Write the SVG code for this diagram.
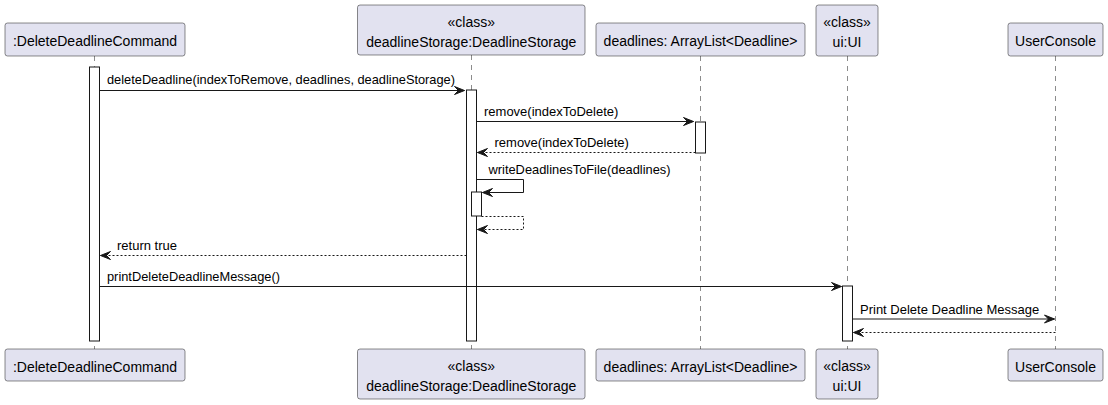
<svg xmlns="http://www.w3.org/2000/svg" width="1108" height="405" viewBox="0 0 1108 405">
<style>
.box{fill:#E2E2F0;stroke:#181818;stroke-width:0.5}
.life{stroke:#181818;stroke-width:0.5;stroke-dasharray:5,5;fill:none}
.act{fill:#FFFFFF;stroke:#181818;stroke-width:1}
.msg{stroke:#181818;stroke-width:1;fill:none}
.ret{stroke:#181818;stroke-width:1;fill:none;stroke-dasharray:2,2}
.pt{font-family:"Liberation Sans",Arial,sans-serif;font-size:14px;fill:#000;text-anchor:middle}
.mt{font-family:"Liberation Sans",Arial,sans-serif;font-size:13px;fill:#000}
.ah{fill:#181818;stroke:#181818;stroke-width:1}
</style>
<rect width="1108" height="405" fill="#FFFFFF"/>
<g id="lifelines">
<line class="life" x1="94.5" y1="56" x2="94.5" y2="349"/>
<line class="life" x1="471.5" y1="55" x2="471.5" y2="349"/>
<line class="life" x1="700.5" y1="56" x2="700.5" y2="349"/>
<line class="life" x1="847.5" y1="56" x2="847.5" y2="349"/>
<line class="life" x1="1055.5" y1="56" x2="1055.5" y2="349"/>
</g>
<g id="p-cmd">
<rect class="box" x="5" y="23" width="180" height="33" rx="2.5"/>
<text class="pt" x="95" y="46">:DeleteDeadlineCommand</text>
<rect class="box" x="5" y="349" width="180" height="32" rx="2.5"/>
<text class="pt" x="95" y="371.5">:DeleteDeadlineCommand</text>
</g>
<g id="p-storage">
<rect class="box" x="357.5" y="5" width="227.5" height="50" rx="2.5"/>
<text class="pt" x="471.3" y="26.5">«class»</text>
<text class="pt" x="471.3" y="46.5">deadlineStorage:DeadlineStorage</text>
<rect class="box" x="357.5" y="349" width="227.5" height="50" rx="2.5"/>
<text class="pt" x="471.3" y="370.5">«class»</text>
<text class="pt" x="471.3" y="390.5">deadlineStorage:DeadlineStorage</text>
</g>
<g id="p-deadlines">
<rect class="box" x="596" y="23" width="209" height="33" rx="2.5"/>
<text class="pt" x="700.5" y="46">deadlines: ArrayList&lt;Deadline&gt;</text>
<rect class="box" x="596" y="349" width="209" height="32" rx="2.5"/>
<text class="pt" x="700.5" y="371.5">deadlines: ArrayList&lt;Deadline&gt;</text>
</g>
<g id="p-ui">
<rect class="box" x="816" y="5" width="62" height="51" rx="2.5"/>
<text class="pt" x="847" y="26.5">«class»</text>
<text class="pt" x="847" y="46.5">ui:UI</text>
<rect class="box" x="816" y="349" width="62" height="50" rx="2.5"/>
<text class="pt" x="847" y="370.5">«class»</text>
<text class="pt" x="847" y="390.5">ui:UI</text>
</g>
<g id="p-console">
<rect class="box" x="1008" y="23" width="95" height="33" rx="2.5"/>
<text class="pt" x="1055.5" y="46">UserConsole</text>
<rect class="box" x="1008" y="349" width="95" height="32" rx="2.5"/>
<text class="pt" x="1055.5" y="371.5">UserConsole</text>
</g>
<g id="activations">
<rect class="act" x="89.5" y="67" width="10" height="274"/>
<rect class="act" x="466.5" y="90" width="10" height="251"/>
<rect class="act" x="471.5" y="192" width="10" height="24"/>
<rect class="act" x="695.5" y="122" width="10" height="31"/>
<rect class="act" x="842.5" y="286" width="10" height="55"/>
</g>
<g id="connectors">
<line class="msg" x1="99.5" y1="90.5" x2="464.5" y2="90.5"/>
<polygon class="ah" points="454.5,86.5 464.5,90.5 454.5,94.5 458.5,90.5"/>
<text class="mt" x="107" y="84" textLength="348" lengthAdjust="spacingAndGlyphs">deleteDeadline(indexToRemove, deadlines, deadlineStorage)</text>

<line class="msg" x1="476.5" y1="121.5" x2="693.5" y2="121.5"/>
<polygon class="ah" points="683.5,117.5 693.5,121.5 683.5,125.5 687.5,121.5"/>
<text class="mt" x="484" y="116">remove(indexToDelete)</text>

<line class="ret" x1="695.5" y1="152.5" x2="477.5" y2="152.5"/>
<polygon class="ah" points="487.5,148.5 477.5,152.5 487.5,156.5 483.5,152.5"/>
<text class="mt" x="494.5" y="147">remove(indexToDelete)</text>

<polyline class="msg" points="476.5,179.5 523.5,179.5 523.5,192.5 482.5,192.5"/>
<polygon class="ah" points="492.5,188.5 482.5,192.5 492.5,196.5 488.5,192.5"/>
<text class="mt" x="488.5" y="174" textLength="182" lengthAdjust="spacingAndGlyphs">writeDeadlinesToFile(deadlines)</text>

<polyline class="ret" points="481.5,216.5 523.5,216.5 523.5,229.5 477.5,229.5"/>
<polygon class="ah" points="487.5,225.5 477.5,229.5 487.5,233.5 483.5,229.5"/>

<line class="ret" x1="466.5" y1="255.5" x2="100.5" y2="255.5"/>
<polygon class="ah" points="110.5,251.5 100.5,255.5 110.5,259.5 106.5,255.5"/>
<text class="mt" x="117" y="250">return true</text>

<line class="msg" x1="99.5" y1="286.5" x2="841.5" y2="286.5"/>
<polygon class="ah" points="831.5,282.5 841.5,286.5 831.5,290.5 835.5,286.5"/>
<text class="mt" x="107" y="281" textLength="173" lengthAdjust="spacingAndGlyphs">printDeleteDeadlineMessage()</text>

<line class="msg" x1="852.5" y1="319" x2="1054.5" y2="319"/>
<polygon class="ah" points="1044.5,315 1054.5,319 1044.5,323 1048.5,319"/>
<text class="mt" x="860" y="313.5">Print Delete Deadline Message</text>

<line class="ret" x1="1055.5" y1="332.5" x2="853.5" y2="332.5"/>
<polygon class="ah" points="863.5,328.5 853.5,332.5 863.5,336.5 859.5,332.5"/>
</g>
</svg>
